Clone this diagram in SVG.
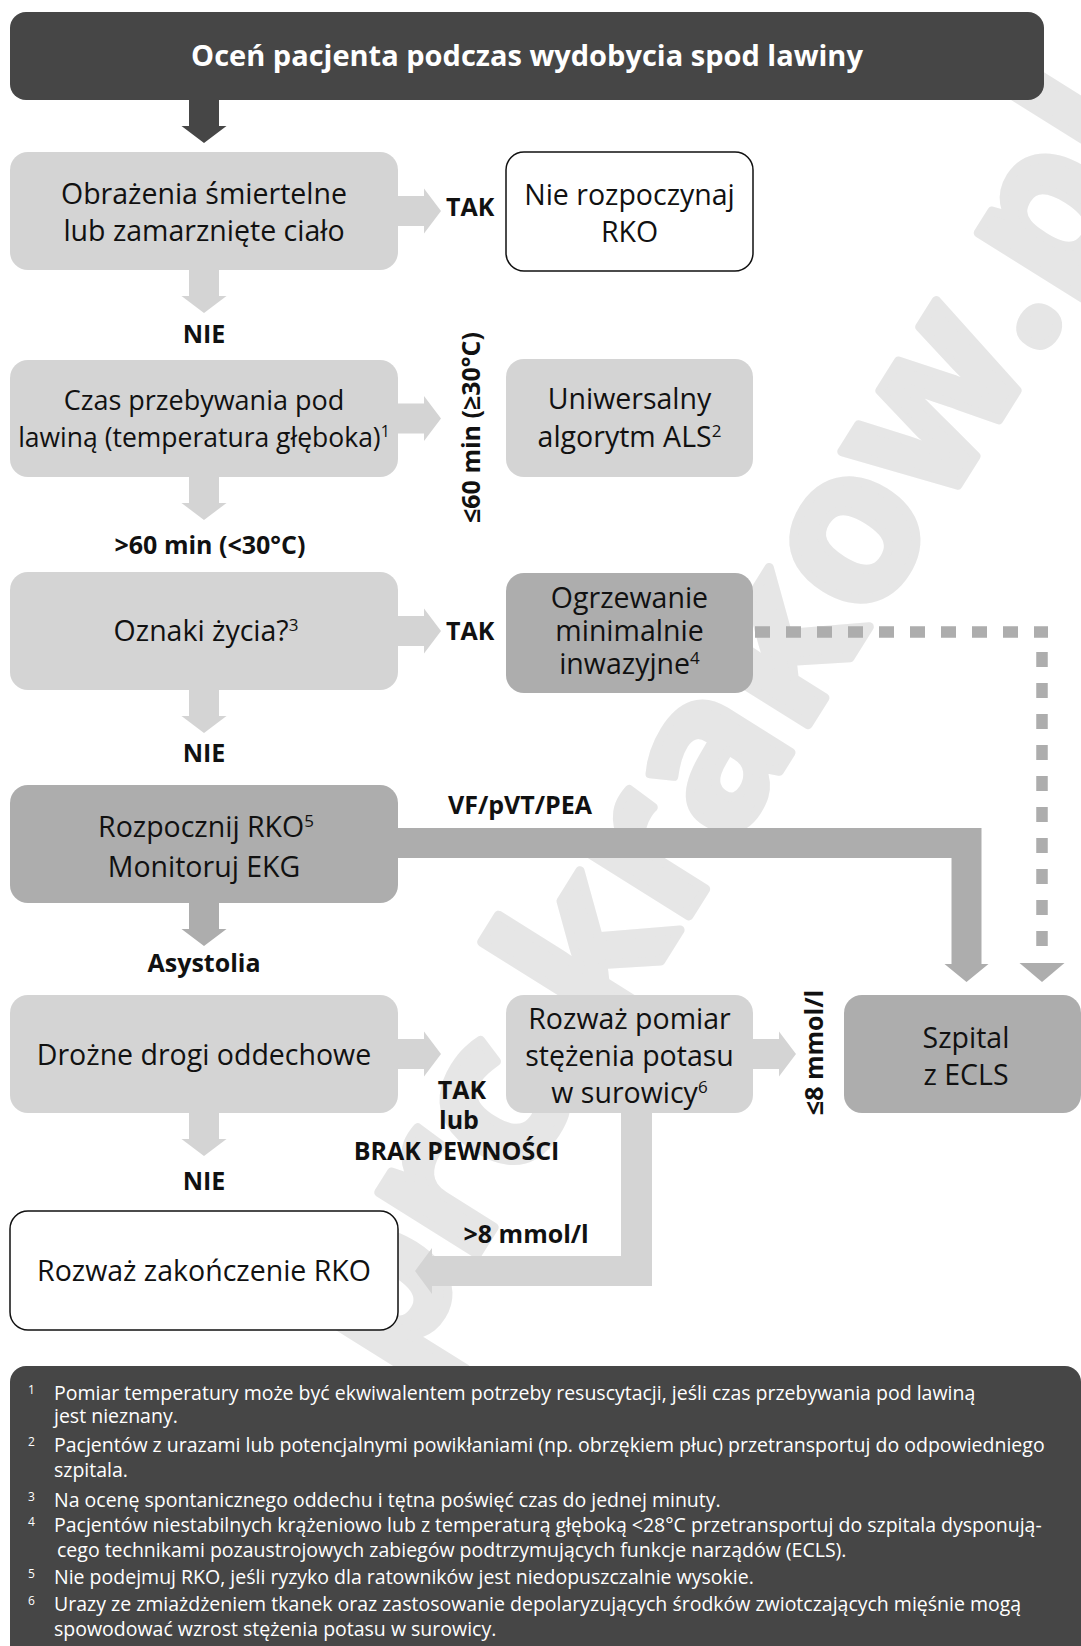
<svg xmlns="http://www.w3.org/2000/svg" xmlns:xlink="http://www.w3.org/1999/xlink" width="1081" height="1646" viewBox="0 0 1081 1646">
<defs>
<style>
.t{font-family:"Open Sans","DejaVu Sans",sans-serif;font-size:28.5px;fill:#111;text-anchor:middle}
.b{font-family:"Open Sans","DejaVu Sans",sans-serif;font-size:25px;font-weight:700;fill:#111}
.c{text-anchor:middle}
.f{font-family:"Open Sans","DejaVu Sans",sans-serif;font-size:19.5px;fill:#fff}
.fn{font-family:"Open Sans","DejaVu Sans",sans-serif;font-size:12px;fill:#fff}
.light{fill:#d4d4d4}
.mid{fill:#adadad}
.dark{fill:#464646}
.white{fill:#fff;stroke:#111;stroke-width:1.5}
.dots{fill:none;stroke:#adadad;stroke-width:11.5;stroke-dasharray:15 16}
</style>
<path id="dn" d="M-15,0 H15 V26 H22.5 L0,43 L-22.5,26 H-15 Z"/>
<path id="rt" d="M0,-15 H26 V-22.5 L43,0 L26,22.5 V15 H0 Z"/>
</defs>
<rect width="1081" height="1646" fill="#fff"/>
<text transform="translate(75,1898) rotate(-58)" font-family="Open Sans, DejaVu Sans, sans-serif" font-size="213" font-weight="700" fill="#e6e6e6" stroke="#e6e6e6" stroke-width="9" stroke-linejoin="round">www.prc.krakow.pl</text>

<g id="connectors">
<use xlink:href="#dn" x="204" y="100" class="dark"/>
<use xlink:href="#dn" x="204" y="270" class="light"/>
<use xlink:href="#dn" x="204" y="477" class="light"/>
<use xlink:href="#dn" x="204" y="690" class="light"/>
<use xlink:href="#dn" x="204" y="903" class="mid"/>
<use xlink:href="#dn" x="204" y="1113" class="light"/>
<use xlink:href="#rt" x="398" y="211" class="light"/>
<use xlink:href="#rt" x="398" y="418.5" class="light"/>
<use xlink:href="#rt" x="398" y="631" class="light"/>
<use xlink:href="#rt" x="398" y="1054" class="light"/>
<use xlink:href="#rt" x="753" y="1054" class="light"/>
<polygon class="mid" points="398,828 981.5,828 981.5,964 988.5,964 966.5,982 944.5,964 951.5,964 951.5,858 398,858"/>
<path class="dots" d="M755,632 H1048"/>
<path class="dots" d="M1042,652 V947"/>
<polygon class="mid" points="1019.5,963 1064.5,963 1042,982"/>
<polygon class="light" points="621,1113 652,1113 652,1286 432,1286 432,1294 415,1271 432,1248 432,1256 621,1256"/>
<text class="b" x="446" y="216">TAK</text>
<text class="b" x="446" y="640">TAK</text>
<text class="b c" x="204" y="343">NIE</text>
<text class="b c" x="210" y="554">&gt;60 min (&lt;30°C)</text>
<text class="b c" x="204" y="762">NIE</text>
<text class="b c" x="520" y="814">VF/pVT/PEA</text>
<text class="b c" x="204" y="972">Asystolia</text>
<text class="b c" x="462" y="1098.5">TAK</text>
<text class="b c" x="459" y="1129">lub</text>
<text class="b c" x="456.5" y="1160">BRAK PEWNOŚCI</text>
<text class="b c" x="204" y="1190">NIE</text>
<text class="b" x="463.5" y="1243">&gt;8 mmol/l</text>
<text class="b c" transform="translate(480,427.5) rotate(-90)">≤60 min (≥30°C)</text>
<text class="b c" transform="translate(823,1052.5) rotate(-90)">≤8 mmol/l</text>
</g>

<g id="header">
<rect class="dark" x="10" y="12" width="1034" height="88" rx="16"/>
<text x="527" y="66" font-family="Open Sans, DejaVu Sans, sans-serif" font-size="29" font-weight="700" fill="#fff" text-anchor="middle">Oceń pacjenta podczas wydobycia spod lawiny</text>
</g>

<g id="n-obrazenia">
<rect class="light" x="10" y="152" width="388" height="118" rx="18"/>
<text class="t" x="204" y="204">Obrażenia śmiertelne</text>
<text class="t" x="204" y="241">lub zamarznięte ciało</text>
</g>

<g id="n-nie-rozpoczynaj">
<rect class="white" x="506" y="152" width="247" height="119" rx="18"/>
<text class="t" x="629.5" y="204.5">Nie rozpoczynaj</text>
<text class="t" x="629.5" y="241.5">RKO</text>
</g>

<g id="n-czas">
<rect class="light" x="10" y="360" width="388" height="117" rx="18"/>
<text class="t" x="204" y="410" style="font-size:27px">Czas przebywania pod</text>
<text class="t" x="204" y="447" style="font-size:26.5px">lawiną (temperatura głęboka)<tspan dy="-10" font-size="16">1</tspan></text>
</g>

<g id="n-uniwersalny">
<rect class="light" x="506" y="359" width="247" height="118" rx="18"/>
<text class="t" x="629.5" y="409">Uniwersalny</text>
<text class="t" x="629.5" y="447">algorytm ALS<tspan dy="-10" font-size="17">2</tspan></text>
</g>

<g id="n-oznaki">
<rect class="light" x="10" y="572" width="388" height="118" rx="18"/>
<text class="t" x="206" y="641">Oznaki życia?<tspan dy="-10" font-size="17">3</tspan></text>
</g>

<g id="n-ogrzewanie">
<rect class="mid" x="506" y="573" width="247" height="120" rx="18"/>
<text class="t" x="629.5" y="608">Ogrzewanie</text>
<text class="t" x="629.5" y="641">minimalnie</text>
<text class="t" x="629.5" y="673.5">inwazyjne<tspan dy="-10" font-size="17">4</tspan></text>
</g>

<g id="n-rozpocznij">
<rect class="mid" x="10" y="785" width="388" height="118" rx="18"/>
<text class="t" x="206" y="837">Rozpocznij RKO<tspan dy="-10" font-size="17">5</tspan></text>
<text class="t" x="204" y="877">Monitoruj EKG</text>
</g>

<g id="n-drozne">
<rect class="light" x="10" y="995" width="388" height="118" rx="18"/>
<text class="t" x="204" y="1065">Drożne drogi oddechowe</text>
</g>

<g id="n-potas">
<rect class="light" x="506" y="995" width="247" height="118" rx="18"/>
<text class="t" x="629.5" y="1029">Rozważ pomiar</text>
<text class="t" x="629.5" y="1066">stężenia potasu</text>
<text class="t" x="629.5" y="1103">w surowicy<tspan dy="-10" font-size="17">6</tspan></text>
</g>

<g id="n-szpital">
<rect class="mid" x="844" y="995" width="237" height="118" rx="18"/>
<text class="t" x="966" y="1048">Szpital</text>
<text class="t" x="966" y="1085">z ECLS</text>
</g>

<g id="n-zakonczenie">
<rect class="white" x="10" y="1211" width="388" height="119" rx="18"/>
<text class="t" x="204" y="1281">Rozważ zakończenie RKO</text>
</g>

<g id="footnotes">
<rect class="dark" x="10" y="1366" width="1071" height="300" rx="16"/>
<text class="fn" x="28" y="1394">1</text>
<text class="f" x="54" y="1400">Pomiar temperatury może być ekwiwalentem potrzeby resuscytacji, jeśli czas przebywania pod lawiną</text>
<text class="f" x="54" y="1423">jest nieznany.</text>
<text class="fn" x="28" y="1446">2</text>
<text class="f" x="54" y="1452">Pacjentów z urazami lub potencjalnymi powikłaniami (np. obrzękiem płuc) przetransportuj do odpowiedniego</text>
<text class="f" x="54" y="1477">szpitala.</text>
<text class="fn" x="28" y="1501">3</text>
<text class="f" x="54" y="1507">Na ocenę spontanicznego oddechu i tętna poświęć czas do jednej minuty.</text>
<text class="fn" x="28" y="1526">4</text>
<text class="f" x="54" y="1532">Pacjentów niestabilnych krążeniowo lub z temperaturą głęboką &lt;28°C przetransportuj do szpitala dysponują-</text>
<text class="f" x="57" y="1557">cego technikami pozaustrojowych zabiegów podtrzymujących funkcje narządów (ECLS).</text>
<text class="fn" x="28" y="1578">5</text>
<text class="f" x="54" y="1584">Nie podejmuj RKO, jeśli ryzyko dla ratowników jest niedopuszczalnie wysokie.</text>
<text class="fn" x="28" y="1605">6</text>
<text class="f" x="54" y="1611">Urazy ze zmiażdżeniem tkanek oraz zastosowanie depolaryzujących środków zwiotczających mięśnie mogą</text>
<text class="f" x="54" y="1636">spowodować wzrost stężenia  potasu w surowicy.</text>
</g>
</svg>
